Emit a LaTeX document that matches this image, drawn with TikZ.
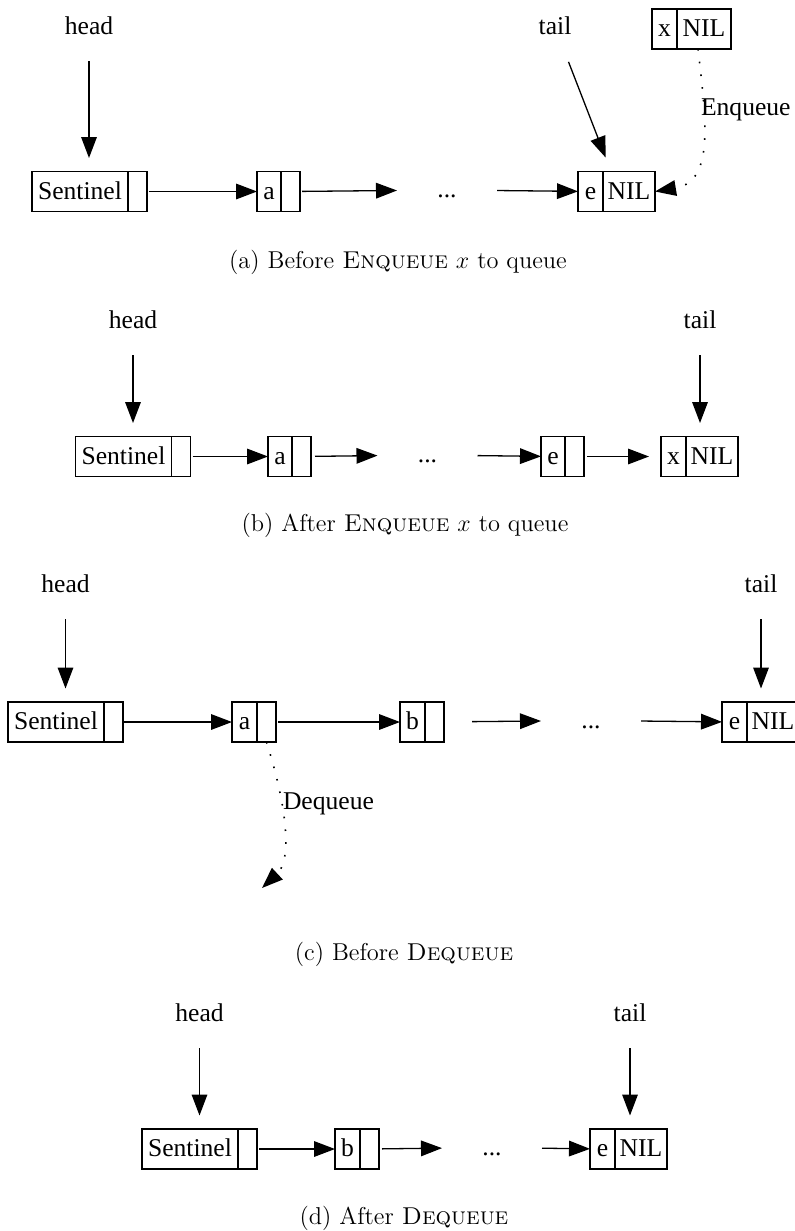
\documentclass[tikz,border=0pt]{standalone}
\usepackage{fontspec}
\newfontfamily\gvfont{Liberation Serif}
\usetikzlibrary{arrows.meta, positioning}

\begin{document}
\begin{tikzpicture}[x=0.5pt, y=-0.5pt,
  gv/.style={font=\gvfont\fontsize{12.8}{15}\selectfont, inner sep=0pt, outer sep=0pt,
             text height=8.6pt, text depth=1.1pt},
  tag/.style={gv},
  cell/.style={gv, draw, line width=0.65pt, minimum height=20pt},
  dots/.style={gv, minimum width=50pt},
  link/.style={-{Triangle[length=10.5pt, width=7.8pt]}, line width=0.65pt},
  pointer/.style={link, shorten <=12.2pt, shorten >=6.75pt},
  opline/.style={link, line width=0.8pt, dash pattern=on 0.8pt off 5.6pt},
  subcap/.style={font=\fontsize{12.2}{14}\selectfont, inner sep=0pt}]

  \useasboundingbox (0,0) rectangle (794,1231);

  % (a) before enqueue
  \node[tag] (hdA) at (89,27) {head};
  \node[tag] (tlA) at (555,27) {tail};
  \node[cell, minimum width=48pt, anchor=west] (sA) at (32,191.5) {Sentinel};
  \node[cell, minimum width=9.5pt, right=0pt of sA] (sAp) {};
  \node[cell, minimum width=12pt, anchor=west] (aA) at (257,191.5) {a};
  \node[cell, minimum width=9.5pt, right=0pt of aA] (aAp) {};
  \node[dots] (dtA) at (447,190) {...};
  \node[cell, minimum width=12.5pt, anchor=west] (eA) at (578,191.5) {e};
  \node[cell, minimum width=26pt, right=0pt of eA] (eAn) {NIL};
  \node[cell, minimum width=12.5pt, anchor=west] (xA) at (652,29) {x};
  \node[cell, minimum width=27pt, right=0pt of xA] (xAn) {NIL};
  \node[gv, anchor=west] (enq) at (701,108) {Enqueue};

  \draw[pointer] (hdA) -- (hdA |- sA.north);
  \draw[pointer, shorten <=13.5pt, shorten >=7.5pt] (tlA) -- ([xshift=4pt]eA.north east);
  \draw[link, shorten <=1pt] (sAp) -- (aA);
  \draw[link, shorten <=1pt] (aAp) -- (dtA);
  \draw[link] (dtA) -- (eA);
  \draw[opline] ([xshift=-3pt]xAn.south) .. controls +(8,70) and +(60,-10) .. (eAn.east);
  \node[subcap] (capA) at (398,262) {(a) Before \textsc{Enqueue} $x$ to queue};

  % (b) after enqueue
  \node[tag] (hdB) at (133,321) {head};
  \node[tag] (tlB) at (700,321) {tail};
  \node[cell, minimum width=48pt, anchor=west] (sB) at (75.5,456.5) {Sentinel};
  \node[cell, minimum width=9.5pt, right=0pt of sB] (sBp) {};
  \node[cell, minimum width=12pt, anchor=west] (aB) at (268,456.5) {a};
  \node[cell, minimum width=9.5pt, right=0pt of aB] (aBp) {};
  \node[dots] (dtB) at (427.5,455) {...};
  \node[cell, minimum width=12pt, anchor=west] (eB) at (541,456.5) {e};
  \node[cell, minimum width=9.5pt, right=0pt of eB] (eBp) {};
  \node[cell, minimum width=12.5pt, anchor=west] (xB) at (661,456.5) {x};
  \node[cell, minimum width=26pt, right=0pt of xB] (xBn) {NIL};

  \draw[pointer] (hdB) -- (hdB |- sB.north);
  \draw[pointer] (tlB) -- (tlB |- xB.north);
  \draw[link, shorten <=1pt] (sBp) -- (aB);
  \draw[link, shorten <=2pt] (aBp) -- (dtB);
  \draw[link] (dtB) -- (eB);
  \draw[link, shorten <=1.5pt, shorten >=6pt] (eBp) -- (xB);
  \node[subcap] (capB) at (405,525) {(b) After \textsc{Enqueue} $x$ to queue};

  % (c) before dequeue
  \node[tag] (hdC) at (65.5,585) {head};
  \node[tag] (tlC) at (761,585) {tail};
  \node[cell, minimum width=48pt, anchor=west] (sC) at (8,722) {Sentinel};
  \node[cell, minimum width=9.5pt, right=0pt of sC] (sCp) {};
  \node[cell, minimum width=12.5pt, anchor=west] (aC) at (232,722) {a};
  \node[cell, minimum width=9.5pt, right=0pt of aC] (aCp) {};
  \node[cell, minimum width=12.5pt, anchor=west] (bC) at (400,722) {b};
  \node[cell, minimum width=9.5pt, right=0pt of bC] (bCp) {};
  \node[dots] (dtC) at (591,720.5) {...};
  \node[cell, minimum width=12.5pt, anchor=west] (eC) at (722,722) {e};
  \node[cell, minimum width=26pt, right=0pt of eC] (eCn) {NIL};
  \coordinate (dqC) at (262,888);
  \node[gv, anchor=west] (deq) at (283,801.5) {Dequeue};

  \draw[pointer] (hdC) -- (hdC |- sC.north);
  \draw[pointer] (tlC) -- (tlC |- eC.north);
  \draw[link, shorten <=0.5pt] (sCp) -- (aC);
  \draw[link, shorten <=1pt] (aCp) -- (bC);
  \draw[link, shorten <=14pt] (bCp) -- (dtC);
  \draw[link] (dtC) -- (eC);
  \draw[opline] (aCp.south) .. controls +(21,66) and +(30,-28) .. (dqC);
  \node[subcap] (capC) at (404,954.5) {(c) Before \textsc{Dequeue}};

  % (d) after dequeue
  \node[tag] (hdD) at (199.5,1014) {head};
  \node[tag] (tlD) at (630,1014) {tail};
  \node[cell, minimum width=48pt, anchor=west] (sD) at (142,1149) {Sentinel};
  \node[cell, minimum width=9.5pt, right=0pt of sD] (sDp) {};
  \node[cell, minimum width=12.5pt, anchor=west] (bD) at (335,1149) {b};
  \node[cell, minimum width=9.5pt, right=0pt of bD] (bDp) {};
  \node[dots] (dtD) at (492,1147.5) {...};
  \node[cell, minimum width=12.5pt, anchor=west] (eD) at (590,1149) {e};
  \node[cell, minimum width=26pt, right=0pt of eD] (eDn) {NIL};

  \draw[pointer] (hdD) -- (hdD |- sD.north);
  \draw[pointer] (tlD) -- (tlD |- eD.north);
  \draw[link, shorten <=1pt] (sDp) -- (bD);
  \draw[link, shorten <=1.5pt] (bDp) -- (dtD);
  \draw[link] (dtD) -- (eD);
  \node[subcap] (capD) at (404,1218) {(d) After \textsc{Dequeue}};
\end{tikzpicture}
\end{document}
